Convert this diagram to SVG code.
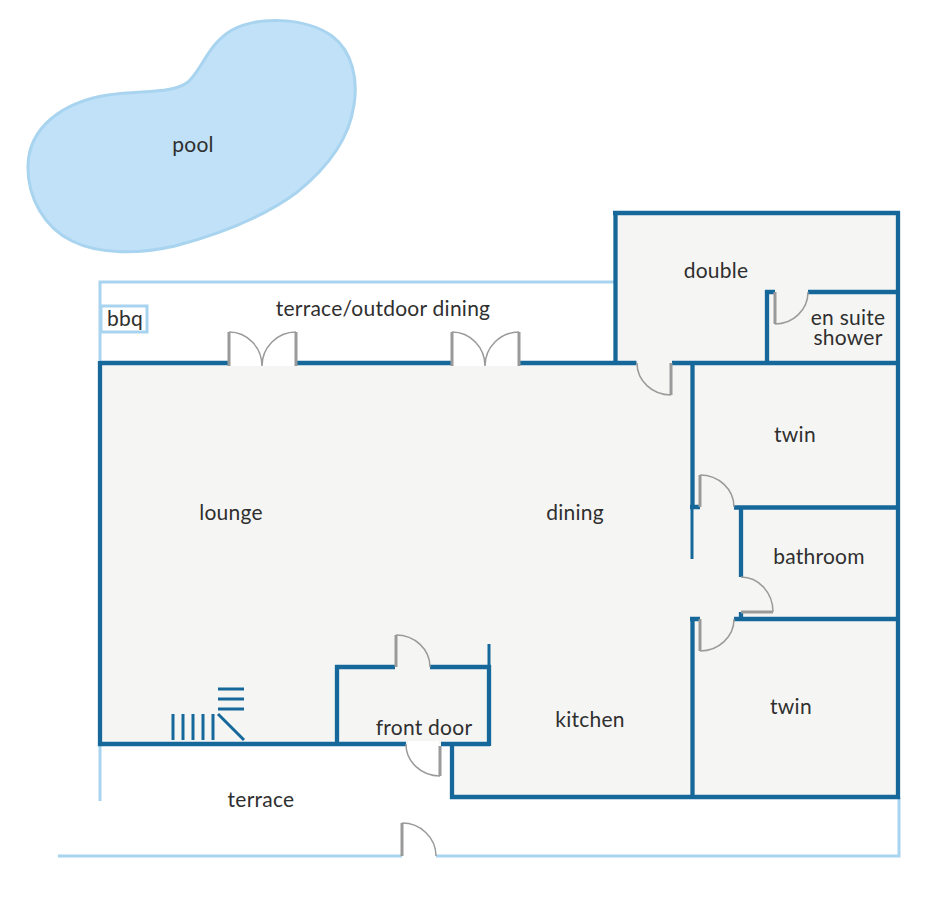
<svg xmlns="http://www.w3.org/2000/svg" width="934" height="900" viewBox="0 0 934 900">
<style>
.w{fill:none;stroke:#17689a;stroke-width:4.300;stroke-linecap:butt}
.t{fill:none;stroke:#17689a;stroke-width:3}
.l{fill:none;stroke:#a9d4ef;stroke-width:3}
.d{fill:none;stroke:#9a9a9a;stroke-width:3}
.a{fill:none;stroke:#9a9a9a;stroke-width:1.5}
text{font-family:"Lato","Noto Sans",sans-serif;font-size:21px;fill:#2f2f2f;text-anchor:middle;letter-spacing:.25px}
</style>
<rect width="934" height="900" fill="#fff"/>
<g id="floor"><path d="M100 363H615V213H898V797H452V744H100Z" fill="#f5f6f4"/><path d="M230 360H295V366H230ZM453 360H518V366H453ZM408 741H439V746H408Z" fill="#fff"/></g>
<g id="pool"><path d="M28 165C29 128 62 102 108 95C145 90 172 94 188 82C203 68 208 44 232 30C258 16 305 17 332 36C353 52 358 80 354 105C349 140 325 170 296 193C262 218 220 234 175 246C140 254 100 255 72 241C45 228 27 198 28 165Z" fill="#c0e1f7" stroke="#a9d4ef" stroke-width="3"/><text x="193" y="152">pool</text></g>
<g id="connectors">
<path class="l" d="M100 801V744M100 363V282H615M58 856H402M436 856H899V797"/>
<path class="w" d="M100 363H228M297 363H451M520 363H636.500M672 363H898M100 361V746M98 744H406M441 744H490M452 742V799M450 797H900M615.500 365V211M613 213H900M898 211V799"/>
<path class="w" d="M767 363V290M765 292H775M808 292H898M692.500 361V507M690 507H700M734 507.500H898M741 507V577M741 612V619M734 619H898M690 619H700M692.500 617V797"/>
<path class="w" d="M337 746V665M335 667H395M430 667H491M489 665V746"/>
<path class="t" d="M692 507V559M489 667V644"/>
<path class="t" d="M173 714V740M183 714V740M193 714V740M203 714V740M213 714V740M218 689H244M218 699H244M218 709H244M218 714L244 740"/>
</g>
<g id="doors">
<path class="d" d="M229 366V332M296 366V332M452 366V332M519 366V332M671 363V395M775 292V324M700 507V475M700 619V651M741 612H773M396 667V635M440 746V776M402 856V823"/>
<path class="a" d="M229 332A33 34 0 0 1 262 366A34 34 0 0 1 296 332M452 332A33 34 0 0 1 485 366A34 34 0 0 1 519 332M637 363A34 32 0 0 0 671 395M775 324A33 32 0 0 0 808 292M700 475A34 32 0 0 1 734 507M700 651A34 32 0 0 0 734 619M741 577A32 35 0 0 1 773 612M396 635A34 32 0 0 1 430 667M406 744A34 32 0 0 0 440 776M402 823A34 33 0 0 1 436 856"/>
</g>
<g id="bbq"><rect x="101" y="306" width="46" height="26" fill="#fff" stroke="#a9d4ef" stroke-width="3"/><text x="125" y="326">bbq</text></g>
<g id="labels">
<text x="383" y="316">terrace/outdoor dining</text>
<text x="716" y="278">double</text>
<text><tspan x="848" y="325">en suite</tspan><tspan x="848" y="345">shower</tspan></text>
<text x="795" y="442">twin</text>
<text x="231" y="520">lounge</text>
<text x="575" y="520">dining</text>
<text x="819" y="564">bathroom</text>
<text x="791" y="714">twin</text>
<text x="590" y="727">kitchen</text>
<text x="424" y="735">front door</text>
<text x="261" y="807">terrace</text>
</g>
</svg>
